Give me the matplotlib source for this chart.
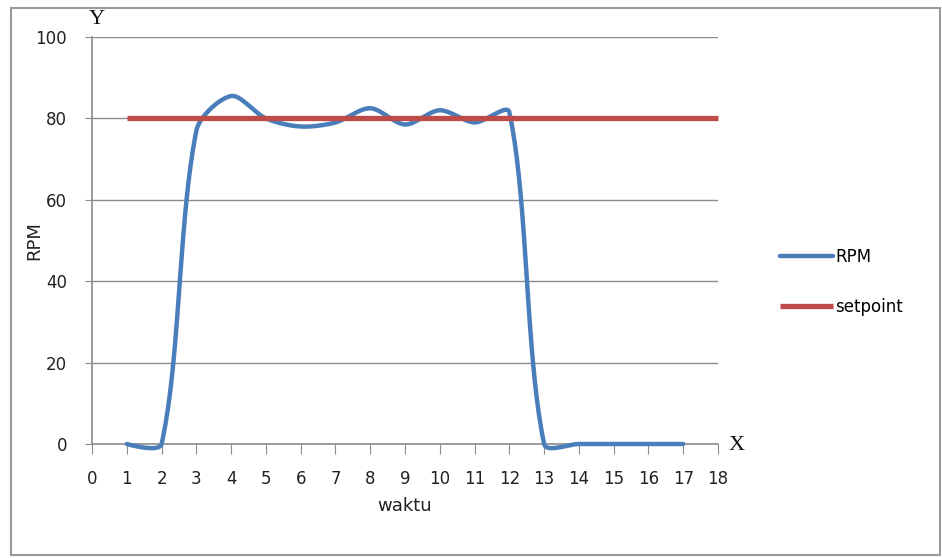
import numpy as np
import matplotlib.pyplot as plt
from matplotlib.patches import Rectangle

waktu = [1, 2, 3, 4, 5, 6, 7, 8, 9, 10, 11, 12, 13, 14, 15, 16, 17]
rpm = [0, 0, 77, 85.5, 80, 78, 79, 82.5, 78.5, 82, 79, 81.5, 0, 0, 0, 0, 0]
setpoint_x = [1, 18]
setpoint_y = [80, 80]

BLUE = '#4A7EBB'
RED = '#BE4B48'
GRID = '#8C8C8C'


def smooth(xs, ys, sx, sy, tension=0.3, n=40):
    # bezier smoothing done in screen units, like a spreadsheet "smoothed line"
    p = np.column_stack([np.asarray(xs, float) * sx, np.asarray(ys, float) * sy])
    m = len(p)
    c_in = p.copy()
    c_out = p.copy()
    for i in range(1, m - 1):
        d0 = np.hypot(*(p[i] - p[i - 1]))
        d1 = np.hypot(*(p[i + 1] - p[i]))
        tan = p[i + 1] - p[i - 1]
        c_in[i] = p[i] - tension * d0 / (d0 + d1) * tan
        c_out[i] = p[i] + tension * d1 / (d0 + d1) * tan
    t = np.linspace(0, 1, n)[:, None]
    pts = []
    for i in range(m - 1):
        a, b, c, d = p[i], c_out[i], c_in[i + 1], p[i + 1]
        seg = ((1 - t) ** 3) * a + 3 * ((1 - t) ** 2) * t * b + 3 * (1 - t) * t ** 2 * c + t ** 3 * d
        pts.append(seg)
    pts = np.vstack(pts)
    return pts[:, 0] / sx, pts[:, 1] / sy


fig = plt.figure(figsize=(9.42, 5.58), dpi=100)
ax = fig.add_axes([0.0977, 0.2043, 0.6645, 0.7294])

# pixels per data unit, used for the smoothing
sx = 626 / 18
sy = 407 / 100
cx, cy = smooth(waktu, rpm, sx, sy)

ax.plot(cx, cy, color=BLUE, lw=3.2, solid_capstyle='round', clip_on=False, zorder=3, label='RPM')
ax.plot(setpoint_x, setpoint_y, color=RED, lw=3.8, solid_capstyle='butt', clip_on=False, zorder=4,
        label='setpoint')

ax.set_xlim(0, 18)
ax.set_ylim(0, 100)
ax.set_xticks(range(0, 19))
ax.set_yticks(range(0, 101, 20))
ax.yaxis.grid(True, color=GRID, lw=1)
ax.set_axisbelow(True)
for s in ['top', 'right']:
    ax.spines[s].set_visible(False)
for s in ['left', 'bottom']:
    ax.spines[s].set_color(GRID)
    ax.spines[s].set_linewidth(1.2)
ax.tick_params(axis='x', length=7, color=GRID, pad=12, labelsize=12, labelcolor='#222222')
ax.tick_params(axis='y', length=5, color=GRID, pad=13, labelsize=12, labelcolor='#222222')

ax.set_xlabel('waktu', fontsize=13, color='#222222', labelpad=6)
ax.set_ylabel('RPM', fontsize=13, color='#222222', labelpad=-6)

fig.text(97 / 942, 1 - 20 / 558, 'Y', family='Liberation Serif', fontsize=16, ha='center', va='center',
         color='#111111')
fig.text(737 / 942, 1 - 446 / 558, 'X', family='Liberation Serif', fontsize=16, ha='center', va='center',
         color='#111111')

fig.legend(loc='center left', bbox_to_anchor=(0.812, 1 - 282 / 558), frameon=False, fontsize=12,
           handlelength=3.2, handletextpad=0.1, labelspacing=1.9)

fig.patches.append(Rectangle((11 / 942, 3 / 558), 929 / 942, 547 / 558, transform=fig.transFigure,
                             fill=False, edgecolor='#9A9A9A', lw=1.5))

fig.savefig('out.png', dpi=100)
